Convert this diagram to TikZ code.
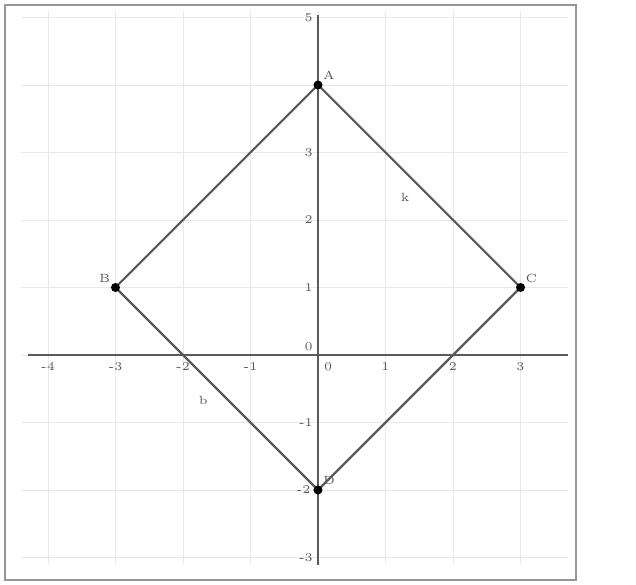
\documentclass[tikz,border=0pt]{standalone}
\usepackage{amsmath}
\usepackage{tikz}
\usepackage{xcolor}
\definecolor{gridgray}{RGB}{232,232,232}
\definecolor{axisgray}{RGB}{90,90,90}
\definecolor{framegray}{RGB}{150,150,150}
\tikzset{
    ticklabel/.style={font=\tiny, text=axisgray, inner sep=1pt},
    pointdot/.style={circle, fill=black, inner sep=0pt, minimum size=3.8pt},
    seglabel/.style={font=\tiny, text=axisgray}
}

\begin{document}
\begin{tikzpicture}
    \useasboundingbox (-4.711,-3.407) rectangle (4.711,5.259);
    \fill[white] (-4.711,-3.407) rectangle (4.711,5.259);
    \draw[framegray, line width=1pt] (-4.637,-3.333) rectangle (3.822,5.185);
    \draw[gridgray, step=1] (-4.4,-3.1) grid (3.7,5.1);
    \draw [axisgray, line width=0.6pt] (-4.3,0)--(3.7,0);
    \draw [axisgray, line width=0.6pt] (0,-3.11)--(0,5.04);
    % tick labels on the x axis
    \draw (-4,0)--(-4,0) node[below=2pt, ticklabel]{-4};
    \draw (-3,0)--(-3,0) node[below=2pt, ticklabel]{-3};
    \draw (-2,0)--(-2,0) node[below=2pt, ticklabel]{-2};
    \draw (-1,0)--(-1,0) node[below=2pt, ticklabel]{-1};
    \draw (0.15,0)--(0.15,0) node[below=2pt, ticklabel]{0};
    \draw (1,0)--(1,0) node[below=2pt, ticklabel]{1};
    \draw (2,0)--(2,0) node[below=2pt, ticklabel]{2};
    \draw (3,0)--(3,0) node[below=2pt, ticklabel]{3};
    % tick labels on the y axis
    \draw (0,5)--(0,5) node[left=1pt, ticklabel]{5};
    \draw (0,3)--(0,3) node[left=1pt, ticklabel]{3};
    \draw (0,2)--(0,2) node[left=1pt, ticklabel]{2};
    \draw (0,1)--(0,1) node[left=1pt, ticklabel]{1};
    \draw (0,0.12)--(0,0.12) node[left=1pt, ticklabel]{0};
    \draw (0,-1)--(0,-1) node[left=1pt, ticklabel]{-1};
    \draw (0,-2)--(0,-2) node[left=2pt, ticklabel]{-2};
    \draw (0,-3)--(0,-3) node[left=1pt, ticklabel]{-3};
    % the square
    \coordinate (A) at (0,4);
    \coordinate (B) at (-3,1);
    \coordinate (C) at (3,1);
    \coordinate (D) at (0,-2);
    \draw[axisgray, line width=0.9pt] (A)--(C)--(D)--(B)--cycle;
    \node[pointdot] (dotA) at (A) {};
    \node[pointdot] (dotB) at (B) {};
    \node[pointdot] (dotC) at (C) {};
    \node[pointdot] (dotD) at (D) {};
    \node[ticklabel, above right=1pt] (labA) at (A) {A};
    \node[ticklabel, above left=1pt] (labB) at (B) {B};
    \node[ticklabel, above right=1pt] (labC) at (C) {C};
    \node[ticklabel, above right=1pt] (labD) at (D) {D};
    \node[seglabel] (segk) at (1.29,2.34) {k};
    \node[seglabel] (segb) at (-1.70,-0.67) {b};
\end{tikzpicture}
\end{document}
